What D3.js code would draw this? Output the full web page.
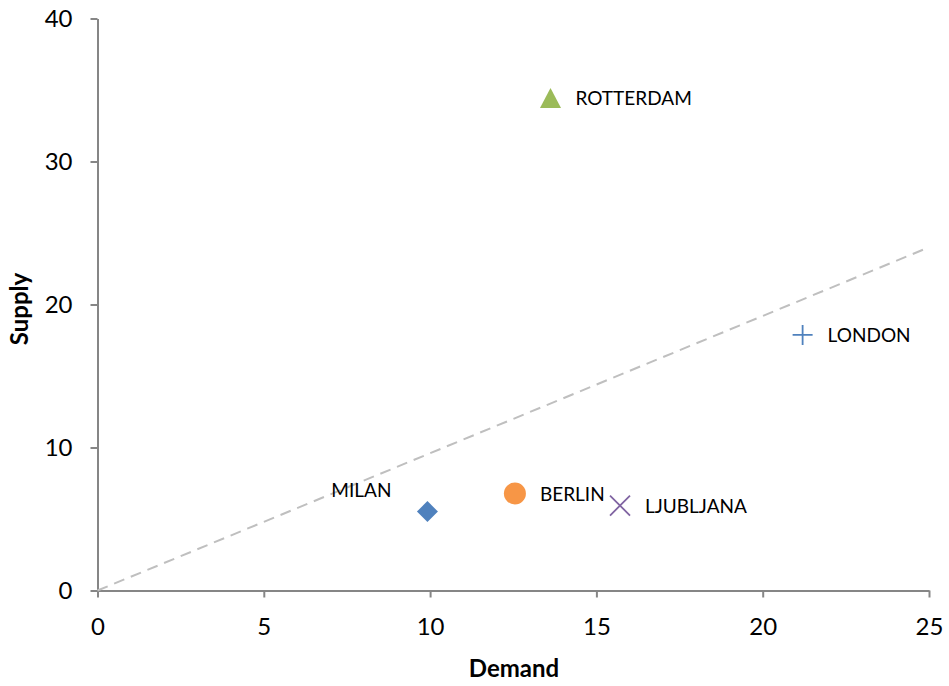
<!DOCTYPE html>
<html>
<head>
<meta charset="utf-8">
<script src="https://cdn.jsdelivr.net/npm/d3@7"></script>
<style>
  body { margin: 0; background: #fff; }
  svg { display: block; font-family: Lato, "Open Sans", sans-serif; }
</style>
</head>
<body>
<svg id="chart" width="949" height="686"></svg>
<script>
// City positions: demand vs supply
const cities  = ["MILAN", "BERLIN", "LJUBLJANA", "LONDON", "ROTTERDAM"];
const demand  = [9.92, 12.55, 15.71, 21.2, 13.62];
const supply  = [5.52, 6.78, 5.94, 17.87, 34.44];
const symbols = ["diamond", "circle", "cross", "plus", "triangle"];
const colors  = ["#4f81bd", "#f79646", "#8064a2", "#4f81bd", "#9bbb59"];
const labelSide = ["left", "right", "right", "right", "right"];

// Reference line (dashed)
const refX = [0, 25];
const refY = [0, 24];

const xTicks = [0, 5, 10, 15, 20, 25];
const yTicks = [0, 10, 20, 30, 40];

const svg = d3.select("#chart");
const x = d3.scaleLinear().domain([0, 25]).range([97.5, 929]);
const y = d3.scaleLinear().domain([0, 40]).range([590.5, 18.5]);

const axisColor = "#868686";

// Axes
const xAxis = svg.append("g").attr("transform", `translate(0,${y(0)})`)
  .call(d3.axisBottom(x).tickValues(xTicks).tickSize(7).tickPadding(20).tickSizeOuter(0));
const yAxis = svg.append("g").attr("transform", `translate(${x(0)},0)`)
  .call(d3.axisLeft(y).tickValues(yTicks).tickSize(7).tickPadding(18).tickSizeOuter(0));

[xAxis, yAxis].forEach(a => {
  a.select(".domain").attr("stroke", axisColor).attr("stroke-width", 2);
  a.selectAll(".tick line").attr("stroke", axisColor).attr("stroke-width", 2);
  a.selectAll(".tick text").attr("fill", "#000").style("font-size", "24px")
    .style("font-family", "Lato, 'Open Sans', sans-serif");
});

// Dashed reference line
svg.append("line")
  .attr("x1", x(refX[0])).attr("y1", y(refY[0]))
  .attr("x2", x(refX[1])).attr("y2", y(refY[1]))
  .attr("stroke", "#bfbfbf").attr("stroke-width", 2)
  .attr("stroke-dasharray", "11,7");

// Markers and city labels
cities.forEach((c, i) => {
  const cx = x(demand[i]), cy = y(supply[i]);
  const g = svg.append("g").attr("transform", `translate(${cx},${cy})`);
  const s = symbols[i];
  if (s === "diamond") {
    g.append("path").attr("d", d3.symbol(d3.symbolSquare, 220)())
      .attr("transform", "rotate(45)").attr("fill", colors[i]);
  } else if (s === "circle") {
    g.append("path").attr("d", d3.symbol(d3.symbolCircle, 380)()).attr("fill", colors[i]);
  } else if (s === "triangle") {
    g.append("path").attr("d", "M0,-10L10.5,10L-10.5,10Z").attr("fill", colors[i]);
  } else if (s === "plus") {
    g.append("path").attr("d", "M-10,0H10M0,-10V10")
      .attr("stroke", colors[i]).attr("stroke-width", 1.8);
  } else if (s === "cross") {
    g.append("path").attr("d", "M-10,-10L10,10M-10,10L10,-10")
      .attr("stroke", colors[i]).attr("stroke-width", 1.8);
  }
  const left = labelSide[i] === "left";
  svg.append("text")
    .attr("x", left ? cx - 36 : cx + 25)
    .attr("y", left ? cy - 15 : cy + 7)
    .attr("text-anchor", left ? "end" : "start")
    .style("font-size", "19px")
    .attr("fill", "#000")
    .text(c);
});

// Axis titles
svg.append("text").attr("x", 514).attr("y", 677).attr("text-anchor", "middle")
  .style("font-size", "24px").style("font-weight", "bold").text("Demand");
svg.append("text").attr("transform", "translate(28,309) rotate(-90)")
  .attr("text-anchor", "middle")
  .style("font-size", "24px").style("font-weight", "bold").text("Supply");
</script>
</body>
</html>
